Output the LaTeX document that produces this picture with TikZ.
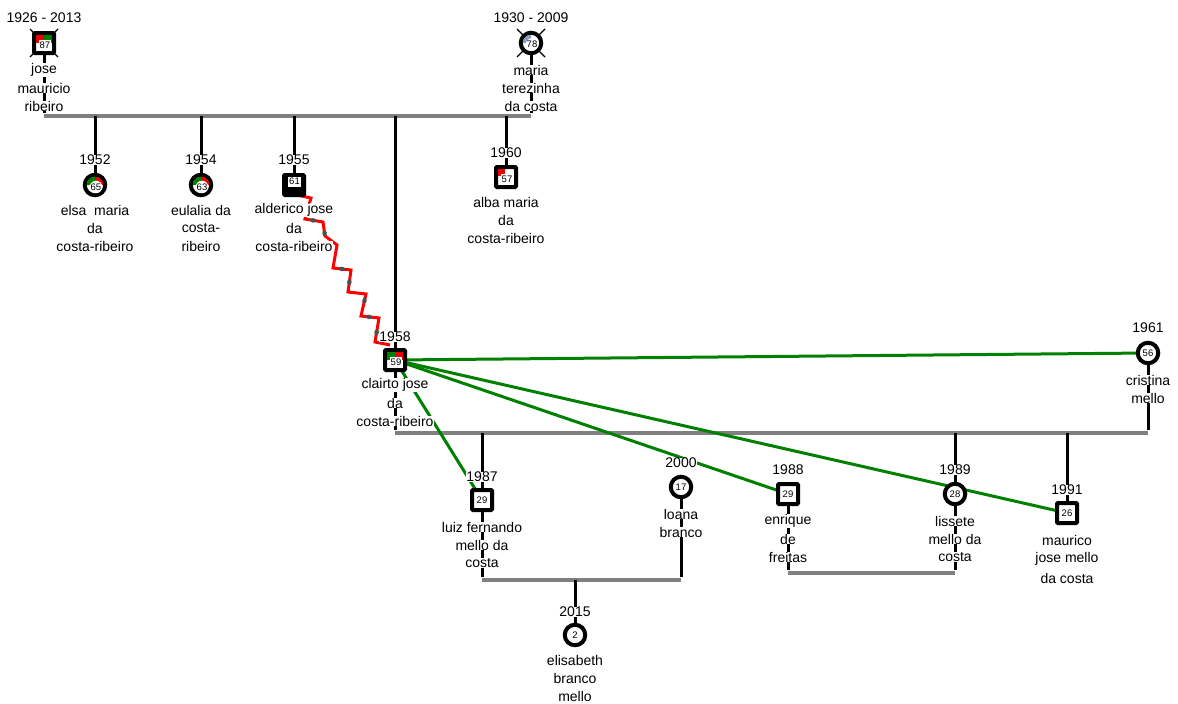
\documentclass[tikz,border=0pt]{standalone}
\usepackage{fontspec}
\setmainfont{Liberation Sans}
\usetikzlibrary{shapes.geometric}
\definecolor{mgray}{RGB}{128,128,128}
\definecolor{ggreen}{RGB}{0,128,0}
\definecolor{hred}{RGB}{235,0,0}
\definecolor{hblue}{RGB}{140,155,195}
\definecolor{dotgray}{RGB}{80,80,80}
\begin{document}
\begin{tikzpicture}[x=1pt,y=-1pt,
  vline/.style={line width=3pt,black},
  mline/.style={line width=4pt,mgray},
  gline/.style={line width=3pt,ggreen},
  zig/.style={line width=3pt,red,line join=miter},
  xline/.style={line width=1.4pt,black},
  male/.style={draw,rectangle,line width=4pt,minimum size=20pt,inner sep=0pt,fill=white,rounded corners=1pt},
  female/.style={draw,circle,line width=4pt,minimum size=20.5pt,inner sep=0pt,fill=white},
  yr/.style={font=\fontsize{14}{16}\selectfont,fill=white,inner sep=0.4pt},
  nm/.style={font=\fontsize{14}{16}\selectfont,fill=white,inner sep=0.2pt},
  agebox/.style={font=\fontsize{9.5}{10}\selectfont,fill=white,inner sep=0pt,minimum width=12.5pt,minimum height=11pt},
  agecirc/.style={font=\fontsize{9.5}{10}\selectfont,fill=white,circle,inner sep=0pt,minimum size=12pt},
  zdot/.style={fill=dotgray,ellipse,inner sep=0pt,minimum width=6pt,minimum height=4.5pt,sloped},
]
\useasboundingbox (0,0) rectangle (1178,704);

% ---- coordinates for marriage lines
\coordinate (m1a) at (44,116);  \coordinate (m1b) at (531,116);
\coordinate (m2a) at (395,433); \coordinate (m2b) at (1148,433);
\coordinate (m3a) at (482,580); \coordinate (m3b) at (681,580);
\coordinate (m4a) at (788,573); \coordinate (m4b) at (955,573);
\coordinate (m3c) at (575,580);

% ---- symbol positions
\coordinate (P-jose) at (44,43);
\coordinate (P-maria) at (531,43);
\coordinate (P-elsa) at (95,185);
\coordinate (P-eulalia) at (201,185);
\coordinate (P-alderico) at (294,185);
\coordinate (P-alba) at (506,177);
\coordinate (P-clairto) at (395,360);
\coordinate (P-cristina) at (1148,353);
\coordinate (P-luiz) at (482,500);
\coordinate (P-loana) at (681,487);
\coordinate (P-enrique) at (788,494);
\coordinate (P-lissete) at (955,494);
\coordinate (P-maurico) at (1067,513);
\coordinate (P-elisabeth) at (575,635);

% ---- parent vertical lines
\draw[vline] (P-jose) -- ([yshift=3pt]m1a);
\draw[vline] (P-maria) -- ([yshift=3pt]m1b);
\draw[vline] (P-clairto) -- ([yshift=3pt]m2a);
\draw[vline] (P-cristina) -- ([yshift=3pt]m2b);
\draw[vline] (P-luiz) -- ([yshift=3pt]m3a);
\draw[vline] (P-loana) -- ([yshift=3pt]m3b);
\draw[vline] (P-enrique) -- ([yshift=3pt]m4a);
\draw[vline] (P-lissete) -- ([yshift=3pt]m4b);

% ---- marriage lines
\draw[mline] (m1a) -- (m1b);
\draw[mline] (m2a) -- (m2b);
\draw[mline] (m3a) -- (m3b);
\draw[mline] (m4a) -- (m4b);

% ---- child lines
\draw[vline] (P-elsa |- m1a) -- (P-elsa);
\draw[vline] (P-eulalia |- m1a) -- (P-eulalia);
\draw[vline] (P-alderico |- m1a) -- (P-alderico);
\draw[vline] (P-alba |- m1a) -- (P-alba);
\draw[vline] (P-clairto |- m1a) -- (P-clairto);
\draw[vline] (P-luiz |- m2a) -- (P-luiz);
\draw[vline] (P-lissete |- m2a) -- (P-lissete);
\draw[vline] (P-maurico |- m2a) -- (P-maurico);
\draw[vline] (m3c) -- (P-elisabeth);

% ---- relationship lines
\draw[gline] (P-clairto) -- (P-cristina);
\draw[gline] (P-clairto) -- (P-luiz);
\draw[gline] (P-clairto) -- (P-enrique);
\draw[gline] (P-clairto) -- (P-maurico);

\draw[zig] (297,195) -- (311,198) -- (305,219)
  -- node[zdot,pos=.45] (zd1) {} (323,222)
  -- node[zdot,pos=.8] (zd2) {} (325,236) -- (337,245)
  -- (333,268) -- node[zdot,pos=.5] (zd3) {} (351,270)
  -- node[zdot,pos=.55] (zd4) {} (348,292) -- (366,294)
  -- node[zdot,pos=.3] (zd5) {} (361,316)
  -- node[zdot,pos=.45] (zd6) {} (379,318)
  -- node[zdot,pos=.6] (zd7) {} (375,342) -- (390,345);

% ---- years
\node[yr] (y-jose) at (44,18) {1926 - 2013};
\node[yr] (y-maria) at (531,18) {1930 - 2009};
\node[yr] (y-elsa) at (95,160) {1952};
\node[yr] (y-eulalia) at (201,160) {1954};
\node[yr] (y-alderico) at (294,160) {1955};
\node[yr] (y-alba) at (506,153) {1960};
\node[yr] (y-clairto) at (395,337) {1958};
\node[yr] (y-cristina) at (1148,328) {1961};
\node[yr] (y-luiz) at (482,477) {1987};
\node[yr] (y-loana) at (681,463) {2000};
\node[yr] (y-enrique) at (788,470) {1988};
\node[yr] (y-lissete) at (955,470) {1989};
\node[yr] (y-maurico) at (1067,490) {1991};
\node[yr] (y-elisabeth) at (575,612) {2015};

% ---- names
\node[nm] (n-jose1) at (44,70) {jose};
\node[nm] (n-jose2) at (44,88) {mauricio};
\node[nm] (n-jose3) at (44,106) {ribeiro};
\node[nm] (n-maria1) at (531,70) {maria};
\node[nm] (n-maria2) at (531,88) {terezinha};
\node[nm] (n-maria3) at (531,106) {da costa};
\node[nm] (n-elsa1) at (95,210) {elsa\ \ maria};
\node[nm] (n-elsa2) at (95,228) {da};
\node[nm] (n-elsa3) at (95,246) {costa-ribeiro};
\node[nm] (n-eul1) at (201,210) {eulalia da};
\node[nm] (n-eul2) at (201,228) {costa-};
\node[nm] (n-eul3) at (201,246) {ribeiro};
\node[nm] (n-ald1) at (294,210) {alderico jose};
\node[nm] (n-ald2) at (294,228) {da};
\node[nm] (n-ald3) at (294,246) {costa-ribeiro};
\node[nm] (n-alba1) at (506,202) {alba maria};
\node[nm] (n-alba2) at (506,220) {da};
\node[nm] (n-alba3) at (506,238) {costa-ribeiro};
\node[nm] (n-cla1) at (395,385) {clairto jose};
\node[nm] (n-cla2) at (395,403) {da};
\node[nm] (n-cla3) at (395,421) {costa-ribeiro};
\node[nm] (n-cri1) at (1148,380) {cristina};
\node[nm] (n-cri2) at (1148,398) {mello};
\node[nm] (n-luiz1) at (482,527) {luiz fernando};
\node[nm] (n-luiz2) at (482,545) {mello da};
\node[nm] (n-luiz3) at (482,563) {costa};
\node[nm] (n-loa1) at (681,514) {loana};
\node[nm] (n-loa2) at (681,532) {branco};
\node[nm] (n-enr1) at (788,521) {enrique};
\node[nm] (n-enr2) at (788,539) {de};
\node[nm] (n-enr3) at (788,557) {freitas};
\node[nm] (n-lis1) at (955,521) {lissete};
\node[nm] (n-lis2) at (955,539) {mello da};
\node[nm] (n-lis3) at (955,557) {costa};
\node[nm] (n-mau1) at (1067,540) {maurico};
\node[nm] (n-mau2) at (1067,559) {jose mello};
\node[nm] (n-mau3) at (1067,578) {da costa};
\node[nm] (n-eli1) at (575,660) {elisabeth};
\node[nm] (n-eli2) at (575,678) {branco};
\node[nm] (n-eli3) at (575,696) {mello};

% ---- deceased crosses
\draw[xline] (30,29) -- (58,57);
\draw[xline] (58,29) -- (30,57);
\draw[xline] (517,29) -- (545,57);
\draw[xline] (545,29) -- (517,57);

% ---- symbols
% jose
\node[male] (jose) at (P-jose) {};
\fill[hred] (36,35) rectangle (44,43);
\fill[ggreen] (44,35) rectangle (52,43);
\node[agebox] (a-jose) at (45,45.5) {87};
% maria
\node[female] (maria) at (P-maria) {};
\fill[hblue] (P-maria) -- ++(-8.3,0) arc[start angle=180,end angle=270,radius=8.3] -- cycle;
\node[agecirc] (a-maria) at (532,44.5) {78};
% elsa
\node[female] (elsa) at (P-elsa) {};
\fill[ggreen] (P-elsa) -- ++(-8.3,0) arc[start angle=180,end angle=270,radius=8.3] -- cycle;
\fill[hred] (P-elsa) -- ++(0,-8.3) arc[start angle=270,end angle=360,radius=8.3] -- cycle;
\node[agecirc] (a-elsa) at (96,187) {65};
% eulalia
\node[female] (eulalia) at (P-eulalia) {};
\fill[ggreen] (P-eulalia) -- ++(-8.3,0) arc[start angle=180,end angle=270,radius=8.3] -- cycle;
\fill[hred] (P-eulalia) -- ++(0,-8.3) arc[start angle=270,end angle=360,radius=8.3] -- cycle;
\node[agecirc] (a-eulalia) at (202,187) {63};
% alderico
\node[male,fill=black] (alderico) at (P-alderico) {};
\node[agebox,minimum height=10pt] (a-alderico) at (294.5,181.5) {61};
% alba
\node[male] (alba) at (P-alba) {};
\fill[hred] (498,169) rectangle (505,176);
\node[agebox] (a-alba) at (507,179) {57};
% clairto
\node[male] (clairto) at (P-clairto) {};
\fill[ggreen] (387,352) rectangle (395,360);
\fill[hred] (395,352) rectangle (403,360);
\node[agebox] (a-clairto) at (396,362.5) {59};
% cristina
\node[female] (cristina) at (P-cristina) {};
\node[agecirc] (a-cristina) at (P-cristina) {56};
% next generation
\node[male] (luiz) at (P-luiz) {};
\node[agebox] (a-luiz) at (P-luiz) {29};
\node[female] (loana) at (P-loana) {};
\node[agecirc] (a-loana) at (P-loana) {17};
\node[male] (enrique) at (P-enrique) {};
\node[agebox] (a-enrique) at (P-enrique) {29};
\node[female] (lissete) at (P-lissete) {};
\node[agecirc] (a-lissete) at (P-lissete) {28};
\node[male] (maurico) at (P-maurico) {};
\node[agebox] (a-maurico) at (P-maurico) {26};
\node[female] (elisabeth) at (P-elisabeth) {};
\node[agecirc] (a-elisabeth) at (P-elisabeth) {2};
\end{tikzpicture}
\end{document}
